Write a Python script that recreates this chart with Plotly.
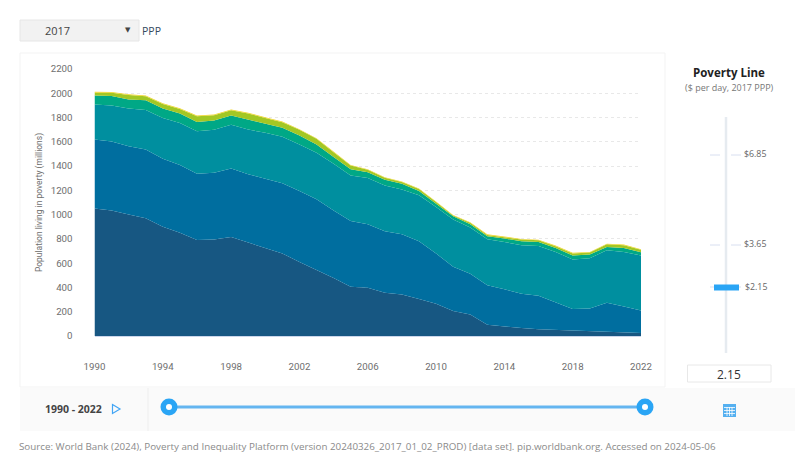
# Population living in poverty, stacked area with the poverty line controls around it
import plotly.graph_objects as go

years = list(range(1990, 2023))
x_ticks = list(range(1990, 2023, 4))
y_ticks = list(range(0, 2201, 200))

# top edge of each stacked band, millions
top_1 = [1050, 1035, 1002, 970, 900, 850, 790, 795, 815, 770, 730, 680, 610, 545, 478,
         405, 397, 356, 342, 304, 265, 205, 178, 93, 77, 65, 55, 50, 42, 35, 32, 30, 25]
top_2 = [1619, 1603, 1564, 1537, 1460, 1408, 1337, 1345, 1381, 1332, 1296, 1258, 1195, 1126, 1035,
         948, 920, 863, 838, 780, 680, 570, 512, 419, 386, 348, 331, 277, 222, 227, 274, 244, 211]
top_3 = [1907, 1899, 1874, 1863, 1797, 1756, 1688, 1699, 1740, 1701, 1674, 1641, 1578, 1510, 1420,
         1323, 1301, 1241, 1208, 1159, 1063, 959, 893, 797, 775, 748, 742, 693, 630, 641, 707, 693, 663]
top_4 = [1981, 1978, 1948, 1942, 1874, 1833, 1764, 1775, 1816, 1784, 1751, 1715, 1652, 1578, 1475,
         1375, 1350, 1288, 1255, 1195, 1090, 986, 920, 822, 803, 781, 775, 726, 663, 671, 734, 726, 690]
top_5 = [2005, 2005, 1986, 1975, 1912, 1871, 1811, 1819, 1860, 1833, 1797, 1762, 1699, 1625, 1515,
         1405, 1370, 1304, 1268, 1211, 1104, 992, 934, 833, 814, 795, 789, 740, 680, 688, 756, 748, 710]
top_6 = [2012, 2011, 1992, 1981, 1918, 1877, 1817, 1825, 1866, 1839, 1803, 1767, 1704, 1630, 1520,
         1410, 1375, 1309, 1273, 1216, 1108, 996, 938, 838, 819, 800, 794, 745, 685, 693, 761, 753, 715]
band_tops = [top_1, top_2, top_3, top_4, top_5, top_6]
band_colors = ["#175782", "#006e9f", "#008f9f", "#00a886", "#a3c724", "#f0d422"]

W, H = 800, 455


def px(x):
    return x / W


def py(y):
    return 1 - y / H


fig = go.Figure()
for i, (top, color) in enumerate(zip(band_tops, band_colors)):
    fig.add_trace(go.Scatter(x=years, y=top, mode="lines", line=dict(width=0, color=color),
                             fill="tozeroy" if i == 0 else "tonexty", fillcolor=color,
                             name="Band %d" % (i + 1)))

shapes = []
labels = []


def box(x0, y0, x1, y1, fill="rgba(0,0,0,0)", line="rgba(0,0,0,0)", width=1, layer="below"):
    shapes.append(dict(type="rect", xref="paper", yref="paper", x0=px(x0), x1=px(x1), y0=py(y0), y1=py(y1),
                       fillcolor=fill, line=dict(color=line, width=width), layer=layer))


def seg(x0, y0, x1, y1, color, width=1):
    shapes.append(dict(type="line", xref="paper", yref="paper", x0=px(x0), x1=px(x1), y0=py(y0), y1=py(y1),
                       line=dict(color=color, width=width)))


def dot(cx, cy, r, color):
    shapes.append(dict(type="circle", xref="paper", yref="paper", x0=px(cx - r), x1=px(cx + r),
                       y0=py(cy + r), y1=py(cy - r), fillcolor=color, line=dict(width=0)))


def label(x, y, text, size=10, color="#555555", anchor="left", family="Open Sans", angle=0):
    labels.append(dict(xref="paper", yref="paper", x=px(x), y=py(y), text=text, showarrow=False,
                       xanchor=anchor, yanchor="middle", textangle=angle,
                       font=dict(size=size, color=color, family=family)))


# cards
box(20, 53, 665, 387, line="#f3f3f3")
box(20, 388, 795, 431, fill="#fafafa")
seg(148, 388, 148, 431, "#eeeeee")

# year dropdown
box(20, 20, 139, 41, fill="#f2f2f2", line="#e6e6e6")
label(58, 31, "2017", size=11, color="#444444", anchor="center")
label(128, 30, "▼", size=7, color="#444444", anchor="center", family="DejaVu Sans")
label(140, 31, "PPP", size=10.5, color="#34495e")

# poverty line control
label(729, 72, "<b>Poverty Line</b>", size=11.5, color="#222222", anchor="center")
label(729, 88, "($ per day, 2017 PPP)", size=9, color="#777777", anchor="center")
seg(726, 117, 726, 353, "#e6ebf0", 2.5)
for tick_y, tick_text in [(155, "$6.85"), (245, "$3.65")]:
    seg(710, tick_y, 720, tick_y, "#d8dff0")
    seg(731, tick_y, 741, tick_y, "#d8dff0")
    label(742, tick_y - 1, tick_text, size=8.8, color="#666666")
seg(710, 287, 741, 287, "#d8dff0")
box(714, 284.5, 739, 290.5, fill="#2aa5f5", layer="above")
label(743, 287, "$2.15", size=8.8, color="#666666")
box(687.5, 365, 771, 382, line="#e8e8e8")
label(729, 374, "2.15", size=12, color="#333333", anchor="center")

# year range slider
label(73, 409, "<b>1990 - 2022</b>", size=10.5, color="#444444", anchor="center")
shapes.append(dict(type="path", xref="paper", yref="paper",
                   path="M %f,%f L %f,%f L %f,%f Z" % (px(112.5), py(404.5), px(120), py(409), px(112.5), py(413.5)),
                   line=dict(color="#42a5f5", width=1.2)))
seg(169, 407, 645, 407, "#64b5f0", 3)
for cx in [169, 645]:
    dot(cx, 407, 8.5, "#2aa5f5")
    dot(cx, 407, 3, "#ffffff")

# table icon
box(723, 404, 736, 417, fill="#55b0f0")
for gy in [407.5, 410.5, 413.5]:
    seg(724, gy, 735, gy, "#ffffff", 0.8)
for gx in [727, 729.5, 732]:
    seg(gx, 407, gx, 416, "#ffffff", 0.8)

label(17, 446, "Source: World Bank (2024), Poverty and Inequality Platform (version 20240326_2017_01_02_PROD) "
      "[data set]. pip.worldbank.org. Accessed on 2024-05-06", size=9.8, color="#8a8a8a")

fig.update_layout(
    width=W, height=H, margin=dict(l=0, r=0, t=0, b=0), showlegend=False,
    paper_bgcolor="#ffffff", plot_bgcolor="#ffffff", shapes=shapes, annotations=labels,
    font=dict(family="Roboto", size=9.7, color="#6e6e6e"),
    xaxis=dict(domain=[px(94.5), px(641)], range=[1990, 2022], tickvals=x_ticks, showgrid=False, zeroline=False,
               showline=True, linecolor="#ccd6eb", ticks="", ticklabelstandoff=21, automargin=False),
    yaxis=dict(domain=[py(336), py(69)], range=[0, 2200], tickvals=y_ticks, gridcolor="#e8e8e8", griddash="dot",
               zeroline=False, ticks="", ticklabelstandoff=21, automargin=False,
               title=dict(text="Population living in poverty (millions)", font=dict(size=8.5, color="#6e6e6e"), standoff=6)),
)

fig.write_html("out.html", config=dict(displayModeBar=False),
               post_script="document.body.style.margin='0';document.body.style.overflow='hidden';")
